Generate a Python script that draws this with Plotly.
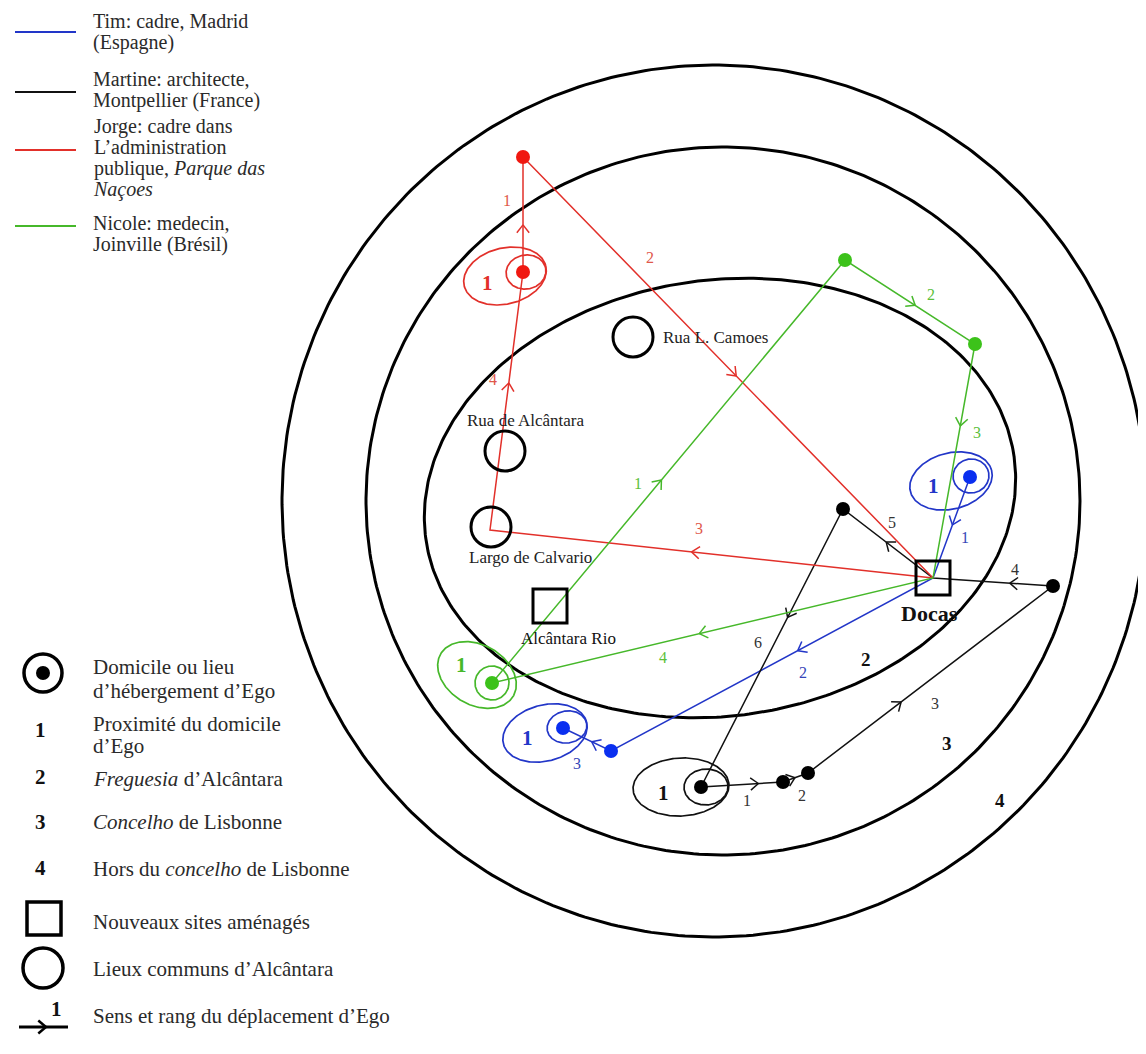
import numpy as np
import plotly.graph_objects as go

# ---------------- data (diagram coordinates, y grows downward) ----------------
# concentric zones: cx, cy, rx, ry, rotation (deg)
zone_cx = [714, 723, 720]
zone_cy = [501, 501, 498]
zone_rx = [432, 357, 297]
zone_ry = [436, 354, 218]
zone_rot = [0, 0, -8]
zone_labels = ["2", "3", "4"]
zone_label_x = [866, 947, 1000]
zone_label_y = [659, 743, 800]

# common places of Alcântara (circles)
place_names = ["Rua L. Camoes", "Rua de Alcântara", "Largo de Calvario"]
place_x = [633, 505, 491]
place_y = [337, 451, 527]
place_label_x = [662, 526, 530]
place_label_y = [337, 420, 557]
place_label_anchor = ["left", "center", "center"]

# new developed sites (squares)
site_names = ["Docas", "Alcântara Rio"]
site_x = [933, 550]
site_y = [578, 606]
site_label_x = [929, 568]
site_label_y = [613, 638]

# itineraries: nodes visited in order
persons = ["Tim", "Martine", "Jorge", "Nicole"]
person_colors = ["#2236c8", "#111111", "#e2302a", "#46b82a"]
step_colors = ["#3546b8", "#333333", "#e0584a", "#5cbf3a"]
dot_colors = ["#0a2ff0", "#000000", "#f01810", "#3cc21a"]

tim_x = [970, 933, 611, 563]
tim_y = [477, 578, 751, 728]
tim_arrow_t = [0.475, 0.42, 0.40]
tim_step_x = [965, 803, 577]
tim_step_y = [537, 672, 763]

martine_x = [701, 783, 808, 1053, 933, 843, 701]
martine_y = [787, 782, 773, 586, 578, 509, 787]
martine_arrow_t = [0.70, 0.48, 0.38, 0.36, 0.52, 0.39]
martine_step_x = [747, 802, 935, 1015, 892, 758]
martine_step_y = [800, 795, 703, 569, 522, 642]

jorge_x = [523, 523, 933, 490, 523]
jorge_y = [272, 157, 578, 530, 272]
jorge_arrow_t = [0.41, 0.52, 0.545, 0.57]
jorge_step_x = [507, 650, 699, 493]
jorge_step_y = [200, 257, 528, 379]

nicole_x = [492, 845, 975, 933, 492]
nicole_y = [683, 260, 344, 578, 683]
nicole_arrow_t = [0.48, 0.54, 0.35, 0.53]
nicole_step_x = [638, 931, 977, 663]
nicole_step_y = [483, 294, 432, 657]

# stops drawn as dots
tim_dot_idx = [0, 2, 3]
martine_dot_idx = [0, 1, 2, 3, 5]
jorge_dot_idx = [0, 1]
nicole_dot_idx = [0, 1, 2]

# homes with "proximity" ellipses: person index, inner / outer (cx,cy,rx,ry,rot), label
home_person = [0, 0, 1, 2, 3]
home_inner = [(971, 476, 18, 17, -10), (567, 727, 20, 16, -10), (706, 787, 22, 18, -3),
              (526, 272, 20, 17, -10), (492, 683, 17, 17, 0)]
home_outer = [(951, 481, 42, 28, -15), (545, 733, 43, 28, -15), (681, 787, 48, 29, -3),
              (505, 276, 42, 28, -14), (477, 675, 42, 30, 30)]
home_label_x = [933, 527, 663, 487, 461]
home_label_y = [486, 738, 793, 283, 665]

# top legend
legend_names = [
    ["Tim: cadre, Madrid", "(Espagne)"],
    ["Martine: architecte,", "Montpellier (France)"],
    ["Jorge: cadre dans", "L’administration", "publique, <i>Parque das</i>", "<i>Naçoes</i>"],
    ["Nicole: medecin,", "Joinville (Brésil)"],
]
legend_line_y = [32, 92, 150, 226]
legend_text_top = [11, 69, 116, 213]
legend_line_gap = [21, 21, 21, 21]
legend_font = [20, 20, 20, 20]

# bottom legend
key_texts = [
    ["Domicile ou lieu", "d’hébergement d’Ego"],
    ["Proximité du domicile", "d’Ego"],
    ["<i>Freguesia</i> d’Alcântara"],
    ["<i>Concelho</i> de Lisbonne"],
    ["Hors du <i>concelho</i> de Lisbonne"],
    ["Nouveaux sites aménagés"],
    ["Lieux communs d’Alcântara"],
    ["Sens et rang du déplacement d’Ego"],
]
key_text_top = [656, 713, 768, 811, 858, 911, 958, 1005]
key_line_gap = [24, 22, 22, 22, 22, 22, 22, 22]
key_numbers = ["1", "2", "3", "4"]
key_number_y = [730, 777, 822, 868]

# ---------------- drawing helpers ----------------
PAGE_W, PAGE_H = 1146, 1054
OFF = 8  # default body margin of the html page
FONT = "Liberation Serif"


def ellipse_pts(cx, cy, rx, ry, rot, n=240):
    t = np.linspace(0, 2 * np.pi, n)
    a = np.deg2rad(rot)
    x = cx + rx * np.cos(t) * np.cos(a) - ry * np.sin(t) * np.sin(a)
    y = cy + rx * np.cos(t) * np.sin(a) + ry * np.sin(t) * np.cos(a)
    return x, y


def chevrons(xs, ys, ts, L=10.0, ang=38):
    cx, cy = [], []
    a = np.deg2rad(ang)
    for i, t in enumerate(ts):
        x0, y0, x1, y1 = xs[i], ys[i], xs[i + 1], ys[i + 1]
        dx, dy = x1 - x0, y1 - y0
        d = np.hypot(dx, dy)
        ux, uy = dx / d, dy / d
        tx, ty = x0 + t * dx, y0 + t * dy
        for s in (1, -1):
            bx = -ux * np.cos(a) + s * uy * np.sin(a)
            by = -uy * np.cos(a) - s * ux * np.sin(a)
            cx += [tx, tx + L * bx, None]
            cy += [ty, ty + L * by, None]
    return cx, cy


def block(lines, top, gap, size=21):
    """One annotation for a multi-line text block with a tight line spacing."""
    base = gap / 1.3  # plotly line spacing is 1.3em of the base font size
    txt = "<br>".join('<span style="font-size:%dpx">%s</span>' % (size, ln) for ln in lines)
    return dict(x=92, y=top - 2, text=txt, xanchor="left", yanchor="top", align="left",
                font=dict(size=base, color="#2a2a2a"))


fig = go.Figure()
ann = []
shapes = []

# zones
for i in range(len(zone_cx)):
    ex, ey = ellipse_pts(zone_cx[i], zone_cy[i], zone_rx[i], zone_ry[i], zone_rot[i], 400)
    fig.add_trace(go.Scatter(x=ex, y=ey, mode="lines", line=dict(color="black", width=3),
                             hoverinfo="skip", showlegend=False))
for i, lab in enumerate(zone_labels):
    ann.append(dict(x=zone_label_x[i], y=zone_label_y[i], text="<b>%s</b>" % lab,
                    font=dict(size=19, color="#111")))

# places
R_PLACE = 20
for i, nm in enumerate(place_names):
    shapes.append(dict(type="circle", xref="x", yref="y",
                       x0=place_x[i] - R_PLACE, x1=place_x[i] + R_PLACE,
                       y0=place_y[i] - R_PLACE, y1=place_y[i] + R_PLACE,
                       line=dict(color="black", width=3)))
    ann.append(dict(x=place_label_x[i], y=place_label_y[i], text=nm,
                    xanchor=place_label_anchor[i], font=dict(size=17, color="#222")))
S_SITE = 17
for i, nm in enumerate(site_names):
    shapes.append(dict(type="rect", xref="x", yref="y",
                       x0=site_x[i] - S_SITE, x1=site_x[i] + S_SITE,
                       y0=site_y[i] - S_SITE, y1=site_y[i] + S_SITE,
                       line=dict(color="black", width=3)))
    txt = "<b>%s</b>" % nm if nm == "Docas" else nm
    ann.append(dict(x=site_label_x[i], y=site_label_y[i], text=txt,
                    font=dict(size=22 if nm == "Docas" else 17, color="#111")))

paths = [(tim_x, tim_y, tim_arrow_t, tim_step_x, tim_step_y, tim_dot_idx),
         (martine_x, martine_y, martine_arrow_t, martine_step_x, martine_step_y, martine_dot_idx),
         (jorge_x, jorge_y, jorge_arrow_t, jorge_step_x, jorge_step_y, jorge_dot_idx),
         (nicole_x, nicole_y, nicole_arrow_t, nicole_step_x, nicole_step_y, nicole_dot_idx)]

# home ellipses
for k, p in enumerate(home_person):
    col = person_colors[p]
    for e in (home_inner[k], home_outer[k]):
        ex, ey = ellipse_pts(*e)
        fig.add_trace(go.Scatter(x=ex, y=ey, mode="lines", line=dict(color=col, width=1.7),
                                 hoverinfo="skip", showlegend=False))
    ann.append(dict(x=home_label_x[k], y=home_label_y[k], text="<b>1</b>",
                    font=dict(size=21, color=col)))

# itineraries
for p, (xs, ys, ts, sx, sy, di) in enumerate(paths):
    col = person_colors[p]
    fig.add_trace(go.Scatter(x=xs, y=ys, mode="lines", line=dict(color=col, width=1.5),
                             hoverinfo="skip", showlegend=False))
    chx, chy = chevrons(xs, ys, ts)
    fig.add_trace(go.Scatter(x=chx, y=chy, mode="lines", line=dict(color=col, width=1.5),
                             hoverinfo="skip", showlegend=False))
    fig.add_trace(go.Scatter(x=[xs[i] for i in di], y=[ys[i] for i in di], mode="markers",
                             marker=dict(color=dot_colors[p], size=14, line=dict(width=0)),
                             hoverinfo="skip", showlegend=False))
    for j in range(len(sx)):
        ann.append(dict(x=sx[j], y=sy[j], text=str(j + 1),
                        font=dict(size=16, color=step_colors[p])))

# top legend
for i, lines in enumerate(legend_names):
    fig.add_trace(go.Scatter(x=[15, 76], y=[legend_line_y[i]] * 2, mode="lines",
                             line=dict(color=person_colors[i], width=2),
                             hoverinfo="skip", showlegend=False))
    ann.append(block(lines, legend_text_top[i], legend_line_gap[i], legend_font[i]))

# bottom legend symbols
shapes.append(dict(type="circle", xref="x", yref="y", x0=24, x1=62, y0=654, y1=692,
                   line=dict(color="black", width=3.5)))
fig.add_trace(go.Scatter(x=[43], y=[673], mode="markers",
                         marker=dict(color="black", size=14), hoverinfo="skip", showlegend=False))
for i, n in enumerate(key_numbers):
    ann.append(dict(x=40, y=key_number_y[i], text="<b>%s</b>" % n,
                    font=dict(size=21, color="#111")))
shapes.append(dict(type="rect", xref="x", yref="y", x0=27, x1=61, y0=902, y1=935,
                   line=dict(color="black", width=3.5)))
shapes.append(dict(type="circle", xref="x", yref="y", x0=23, x1=63, y0=948, y1=988,
                   line=dict(color="black", width=3.5)))
kx = [19, 68]
ky = [1027, 1027]
fig.add_trace(go.Scatter(x=kx, y=ky, mode="lines", line=dict(color="black", width=3),
                         hoverinfo="skip", showlegend=False))
chx, chy = chevrons(kx, ky, [0.55], L=10, ang=40)
fig.add_trace(go.Scatter(x=chx, y=chy, mode="lines", line=dict(color="black", width=2.5),
                         hoverinfo="skip", showlegend=False))
ann.append(dict(x=56, y=1009, text="<b>1</b>", font=dict(size=21, color="#111")))
for i, lines in enumerate(key_texts):
    ann.append(block(lines, key_text_top[i], key_line_gap[i]))

for a in ann:
    a.setdefault("xanchor", "center")
    a.setdefault("yanchor", "middle")
    a.update(xref="x", yref="y", showarrow=False, borderpad=0)
    a["font"].setdefault("family", FONT)

fig.update_layout(
    width=PAGE_W - OFF, height=PAGE_H - OFF, margin=dict(l=0, r=0, t=0, b=0),
    paper_bgcolor="white", plot_bgcolor="white",
    xaxis=dict(range=[OFF, PAGE_W], visible=False, fixedrange=True),
    yaxis=dict(range=[PAGE_H, OFF], visible=False, fixedrange=True),
    shapes=shapes, annotations=ann, showlegend=False,
)
fig.write_html("out.html", config={"displayModeBar": False})
